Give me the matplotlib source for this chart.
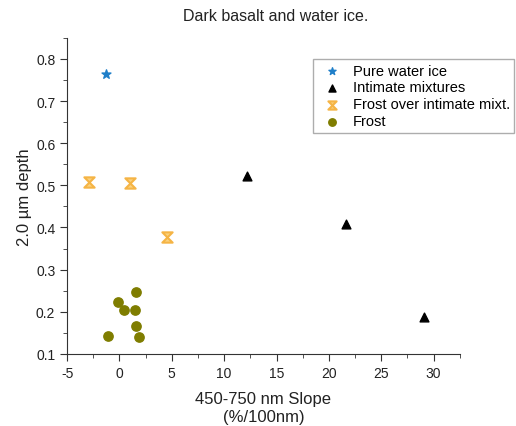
import matplotlib.pyplot as plt
import numpy as np
from matplotlib.path import Path
from matplotlib.ticker import MultipleLocator

plt.rcParams['font.family'] = ['Liberation Sans', 'DejaVu Sans']
plt.rcParams['axes.unicode_minus'] = False

# data
ice_x = [-1.3]
ice_y = [0.765]
mix_x = [12.2, 21.6, 29.1]
mix_y = [0.522, 0.409, 0.188]
frost_mix_x = [-2.9, 1.0, 4.5]
frost_mix_y = [0.508, 0.505, 0.378]
frost_x = [1.6, -0.1, 0.45, 1.5, 1.6, -1.05, 1.9]
frost_y = [0.247, 0.222, 0.205, 0.205, 0.167, 0.142, 0.139]

# hourglass / X style marker
hourglass = Path([(-1, 1), (1, 1), (-1, -1), (1, -1), (-1, 1)],
                 [Path.MOVETO, Path.LINETO, Path.LINETO, Path.LINETO, Path.CLOSEPOLY])

fig = plt.figure(figsize=(5.16, 4.27), dpi=100)
ax = fig.add_axes([0.13, 0.169, 0.761, 0.74])

ax.scatter(ice_x, ice_y, marker='*', s=45, color='#1f7fc9', label='Pure water ice')
ax.scatter(mix_x, mix_y, marker='^', s=40, color='black', label='Intimate mixtures')
ax.scatter(frost_mix_x, frost_mix_y, marker=hourglass, s=55, facecolor='#fbd27e',
           edgecolor='#f5b445', linewidths=1.5, label='Frost over intimate mixt.')
ax.scatter(frost_x, frost_y, marker='o', s=45, color='#7f7d00', label='Frost')

ax.set_xlim(-5, 32.5)
ax.set_ylim(0.1, 0.85)
ax.xaxis.set_major_locator(MultipleLocator(5))
ax.xaxis.set_minor_locator(MultipleLocator(2.5))
ax.yaxis.set_minor_locator(MultipleLocator(0.05))
ax.set_yticks(np.arange(0.1, 0.81, 0.1))
ax.set_yticklabels(['0.1', '0.2', '0.3', '0.4', '0.5', '0.6', '0.7', '0.8'])
for s in ['top', 'right']:
    ax.spines[s].set_visible(False)
for s in ['left', 'bottom']:
    ax.spines[s].set_color('#333333')
ax.tick_params(which='major', direction='out', length=5, labelsize=10, color='#333333',
               labelcolor='#222222')
ax.tick_params(which='minor', direction='out', length=3, color='#333333')

ax.set_xlabel('450-750 nm Slope\n(%/100nm)', fontsize=12, labelpad=8, linespacing=1.3,
              color='#222222')
ax.set_ylabel('2.0 µm depth', fontsize=12, labelpad=3, color='#222222')
fig.text(0.535, 0.962, 'Dark basalt and water ice.', ha='center', va='center',
         fontsize=11.5, color='#222222')

fig.legend(loc='upper left', bbox_to_anchor=(0.607, 0.859), borderaxespad=0,
           fontsize=10.5, frameon=True, fancybox=False, edgecolor='#999999',
           handlelength=2.0, handletextpad=0.4, borderpad=0.3,
           labelspacing=0.2, scatterpoints=1, markerscale=0.8)

fig.savefig('out.png', dpi=100)
